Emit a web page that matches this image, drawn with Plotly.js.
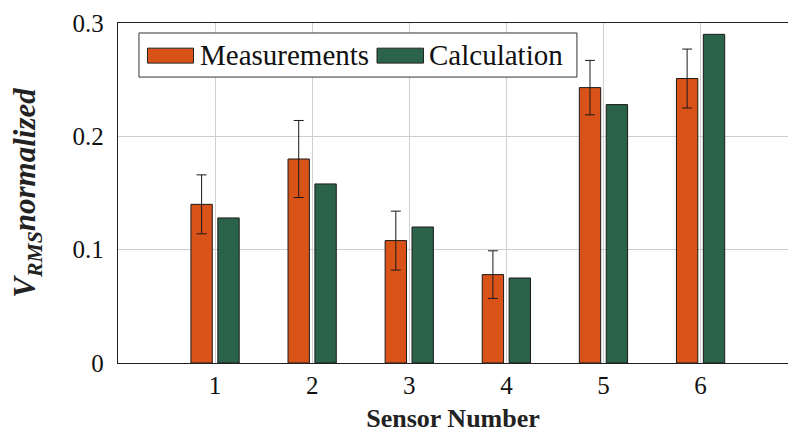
<!DOCTYPE html>
<html>
<head>
<meta charset="utf-8">
<script src="https://cdn.plot.ly/plotly-3.0.1.min.js"></script>
<style>html,body{margin:0;padding:0;background:#fff;}#chart{width:788px;height:433px;}</style>
</head>
<body>
<div id="chart"></div>
<script>
const sensors = [1, 2, 3, 4, 5, 6];
const tickLabels = ['1', '2', '3', '4', '5', '6'];
const measurements = [0.140, 0.180, 0.108, 0.078, 0.243, 0.251];
const measurementErr = [0.026, 0.034, 0.026, 0.021, 0.024, 0.026];
const calculation = [0.128, 0.158, 0.120, 0.075, 0.228, 0.290];
const seriesNames = ['Measurements', 'Calculation'];
const yTicks = [0, 0.1, 0.2, 0.3];
const yTickText = ['0', '0.1', '0.2', '0.3'];

const ORANGE = '#D95319';
const GREEN = '#2A6349';
const FONT = "'Liberation Serif', 'DejaVu Serif', serif";

const traces = [
  {
    type: 'bar', name: seriesNames[0], x: sensors, y: measurements,
    width: 0.22, offset: -0.249,
    marker: {color: ORANGE, line: {color: '#1a1a1a', width: 1}},
    error_y: {type: 'data', array: measurementErr, visible: true, color: '#1a1a1a', thickness: 1, width: 5},
    showlegend: false
  },
  {
    type: 'bar', name: seriesNames[1], x: sensors, y: calculation,
    width: 0.22, offset: 0.028,
    marker: {color: GREEN, line: {color: '#1a1a1a', width: 1}},
    showlegend: false
  }
];

const layout = {
  width: 788, height: 433,
  margin: {l: 118, r: 0, t: 23, b: 70, pad: 0},
  paper_bgcolor: '#fff', plot_bgcolor: '#fff',
  barmode: 'overlay',
  font: {family: FONT, color: '#111'},
  xaxis: {
    range: [0, 6.9], tickvals: sensors, ticktext: tickLabels,
    showgrid: true, gridcolor: '#cfcfcf', gridwidth: 1,
    zeroline: false, showline: true, linecolor: '#222', linewidth: 1.2, mirror: true,
    ticks: '', ticklabelstandoff: 0,
    tickfont: {family: FONT, size: 25, color: '#111'},
    title: {text: '<b>Sensor Number</b>', font: {family: FONT, size: 26, color: '#222'}, standoff: 19}
  },
  yaxis: {
    range: [0, 0.3], tickvals: yTicks, ticktext: yTickText,
    showgrid: true, gridcolor: '#cfcfcf', gridwidth: 1,
    zeroline: false, showline: true, linecolor: '#222', linewidth: 1.2,
    ticks: '', ticklabelstandoff: 8,
    tickfont: {family: FONT, size: 25, color: '#111'},
    title: {text: '<b><i>V<sub>RMS</sub>normalized</i></b>', font: {family: FONT, size: 31, color: '#222'}, standoff: 27}
  },
  shapes: [
    {type: 'rect', xref: 'paper', yref: 'paper', x0: 0.0313, x1: 0.685, y0: 0.841, y1: 0.9706,
     line: {color: '#333', width: 1}, fillcolor: '#fff', layer: 'above'},
    {type: 'rect', xref: 'paper', yref: 'paper', x0: 0.044, x1: 0.1127, y0: 0.882, y1: 0.926,
     line: {color: '#222', width: 1}, fillcolor: ORANGE, layer: 'above'},
    {type: 'rect', xref: 'paper', yref: 'paper', x0: 0.3866, x1: 0.456, y0: 0.882, y1: 0.926,
     line: {color: '#222', width: 1}, fillcolor: GREEN, layer: 'above'}
  ],
  annotations: [
    {xref: 'paper', yref: 'paper', x: 0.119, y: 0.906, xanchor: 'left', yanchor: 'middle',
     text: seriesNames[0], showarrow: false, font: {family: FONT, size: 29, color: '#111'}},
    {xref: 'paper', yref: 'paper', x: 0.4615, y: 0.906, xanchor: 'left', yanchor: 'middle',
     text: seriesNames[1], showarrow: false, font: {family: FONT, size: 29, color: '#111'}}
  ]
};

Plotly.newPlot('chart', traces, layout, {displayModeBar: false, staticPlot: true});
</script>
</body>
</html>
